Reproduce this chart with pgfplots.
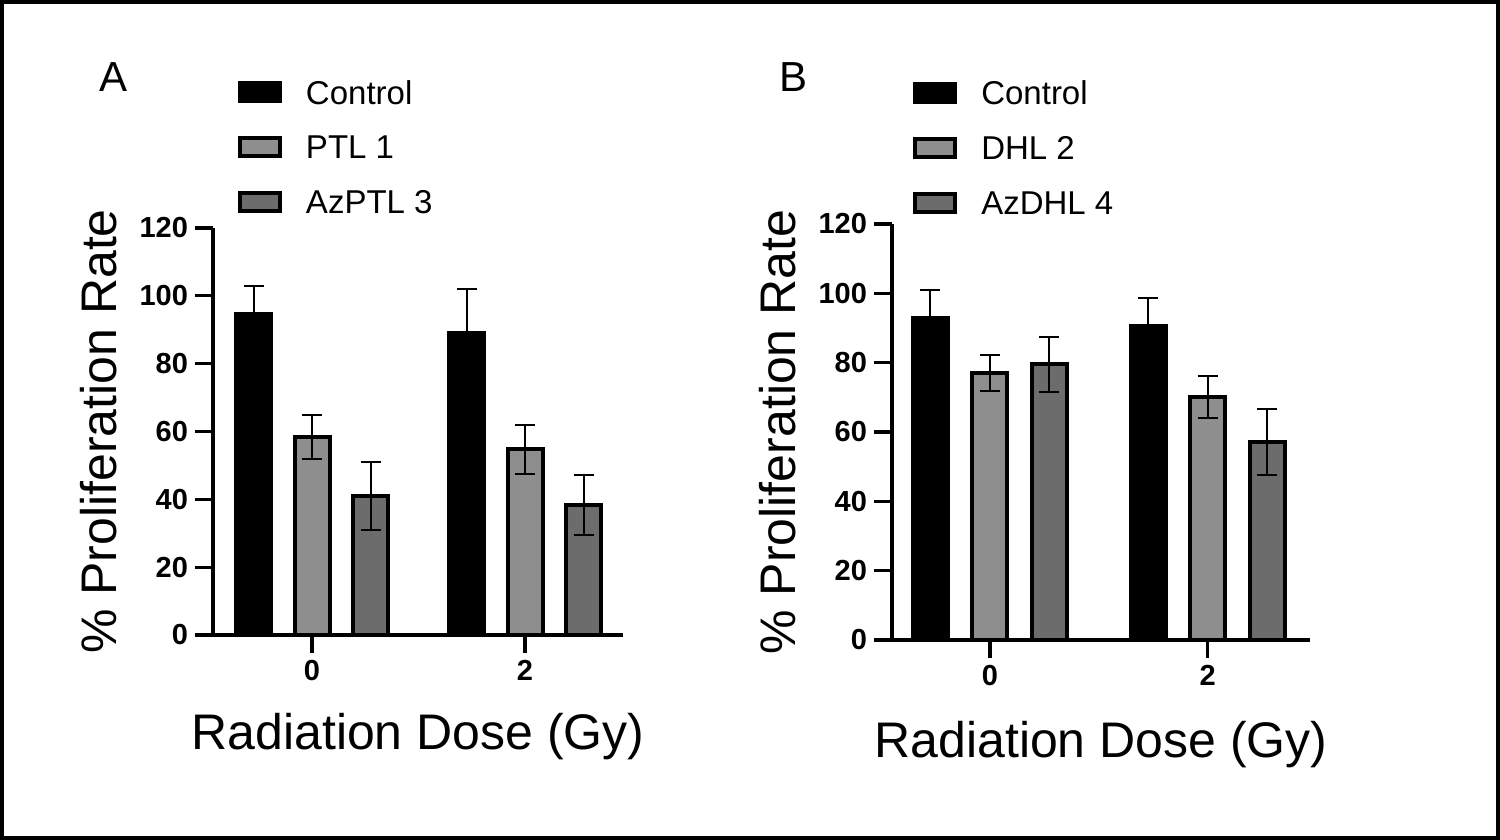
\documentclass[border=0pt]{standalone}
\usepackage{fontspec}
\setmainfont{Liberation Sans}
\usepackage{pgfplots}
\pgfplotsset{compat=1.18}

\definecolor{lightbar}{HTML}{8E8E8E}
\definecolor{darkbar}{HTML}{6C6C6C}

\pgfplotsset{
  panel/.style={
    scale only axis, clip=false, anchor=south west,
    ymin=0, ymax=120, ytick={0,20,...,120},
    xtick={0,1}, xticklabels={0,2},
    axis x line*=bottom, axis y line*=left,
    axis line style={line width=2pt,-},
    every tick/.style={black,line width=1.6pt},
    major tick length=9pt, tick align=outside,
    tick label style={font=\fontsize{14.5}{17}\selectfont\bfseries},
    /pgf/number format/assume math mode=true,
    label style={font=\fontsize{25}{30}\selectfont},
    ybar, bar width=17.5pt,
    error bars/y dir=both, error bars/y explicit,
    error bars/error bar style={line width=1pt,black},
    error bars/error mark options={rotate=90,line width=1pt,black,mark size=5pt},
    every axis plot/.append style={draw=black, line width=2pt},
    legend image code/.code={\draw[##1] (0pt,-3.6pt) rectangle (20pt,5.4pt);},
    legend cell align=left,
    legend style={draw=none, fill=none, anchor=north west,
      font=\fontsize{16.5}{20}\selectfont, row sep=14.5pt, column sep=12pt,
      inner sep=0pt, nodes={inner sep=0pt}},
  }
}

\begin{document}
\begin{tikzpicture}
\useasboundingbox (0,0) rectangle (750pt,420pt);
\draw[line width=2pt] (1pt,1pt) rectangle (749pt,419pt);
\node[font=\fontsize{21}{25}\selectfont] at (57pt,381.5pt) {A};
\node[font=\fontsize{21}{25}\selectfont] at (396.5pt,381.5pt) {B};

% panel A
\begin{axis}[panel, at={(106.5pt,102.5pt)}, width=205pt, height=203.5pt,
  xmin=-0.465, xmax=1.46,
  xlabel={Radiation Dose (Gy)}, ylabel={\% Proliferation Rate},
  xlabel style={at={(axis description cs:0.5,0)}, anchor=base, yshift=-57.5pt},
  ylabel style={at={(axis description cs:-0.28,0.5)}, anchor=center},
  legend style={at={(axis description cs:0.06,1.364)}}]
\addplot[fill=black, bar shift=-29.25pt] coordinates {(0,94.5) +- (0,8.3) (1,89) +- (0,13)};
\addlegendentry{Control}
\addplot[fill=lightbar, bar shift=0pt] coordinates {(0,58.5) +- (0,6.5) (1,54.7) +- (0,7.2)};
\addlegendentry{PTL 1}
\addplot[fill=darkbar, bar shift=29.25pt] coordinates {(0,41) +- (0,10) (1,38.3) +- (0,8.9)};
\addlegendentry{AzPTL 3}
\end{axis}

% panel B
\begin{axis}[panel, at={(446pt,100pt)}, width=209pt, height=208pt,
  xmin=-0.45, xmax=1.47,
  xlabel={Radiation Dose (Gy)}, ylabel={\% Proliferation Rate},
  xlabel style={at={(axis description cs:0.5,0)}, anchor=base, yshift=-59pt},
  ylabel style={at={(axis description cs:-0.273,0.5)}, anchor=center},
  legend style={at={(axis description cs:0.05,1.345)}}]
\addplot[fill=black, bar shift=-29.75pt] coordinates {(0,93) +- (0,8) (1,90.6) +- (0,8)};
\addlegendentry{Control}
\addplot[fill=lightbar, bar shift=0pt] coordinates {(0,77) +- (0,5.2) (1,70.1) +- (0,6.1)};
\addlegendentry{DHL 2}
\addplot[fill=darkbar, bar shift=29.75pt] coordinates {(0,79.5) +- (0,7.9) (1,57.1) +- (0,9.5)};
\addlegendentry{AzDHL 4}
\end{axis}
\end{tikzpicture}
\end{document}
